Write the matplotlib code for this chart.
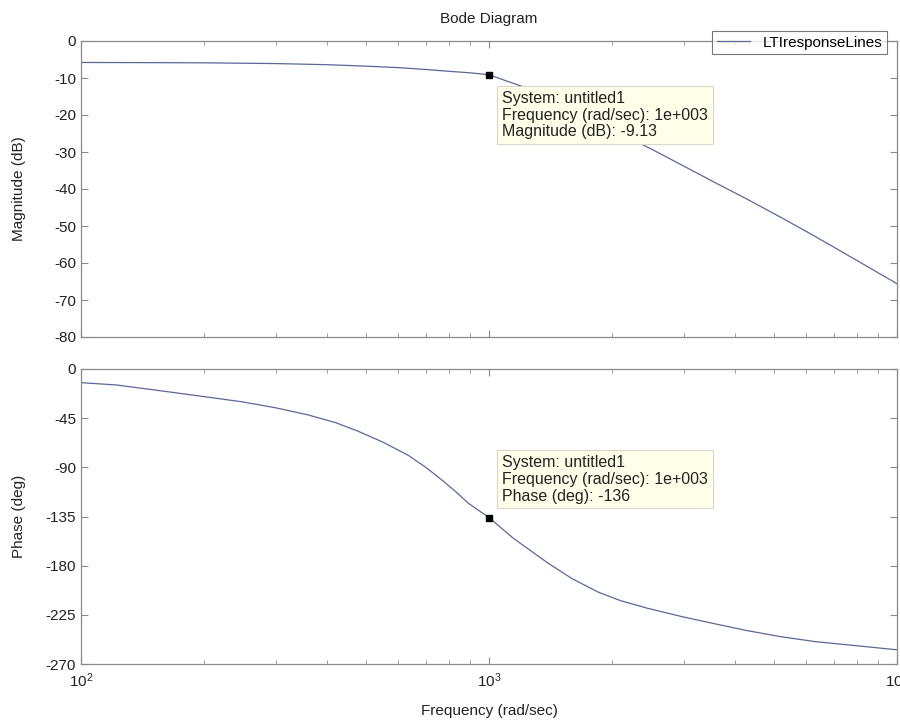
import matplotlib
matplotlib.use("Agg")
import matplotlib.pyplot as plt
from matplotlib.ticker import FixedLocator, LogLocator, NullFormatter

plt.rcParams['font.family'] = ['Liberation Sans', 'DejaVu Sans']
plt.rcParams['axes.unicode_minus'] = False
plt.rcParams['mathtext.fontset'] = 'custom'
plt.rcParams['mathtext.rm'] = 'Liberation Sans'
plt.rcParams['mathtext.it'] = 'Liberation Sans'

# Magnitude response
mag_freq = [100, 150, 200, 300, 400, 500, 600, 700, 800, 900, 1000, 1200, 1400, 1700,
            2000, 2500, 3000, 3600, 4300, 5200, 6250, 8000, 10000]
mag_db = [-5.8, -5.85, -5.9, -6.1, -6.4, -6.8, -7.2, -7.7, -8.2, -8.6, -9.13, -12.2, -15.5, -20.0,
          -24.0, -29.2, -33.8, -38.4, -42.8, -47.7, -52.6, -59.4, -65.6]

# Phase response
ph_freq = [100, 122, 167, 248, 300, 360, 420, 478, 550, 634, 700, 769, 830, 891, 1000,
           1148, 1393, 1600, 1847, 2100, 2447, 3000, 3556, 4300, 5188, 6300, 7580, 10000]
ph_deg = [-12.5, -14.6, -21.3, -30.0, -35.5, -42.0, -49.0, -57.0, -67.0, -79.0, -90.0, -102.0,
          -112.5, -123.0, -136.0, -155.0, -177.5, -192.0, -204.0, -212.0, -219.0, -227.0,
          -233.0, -239.5, -245.0, -249.5, -252.5, -257.0]

mark_freq = 1000
mark_mag = -9.13
mark_ph = -136

mag_ticks = [0, -10, -20, -30, -40, -50, -60, -70, -80]
ph_ticks = [0, -45, -90, -135, -180, -225, -270]
x_ticks = [100, 1000, 10000]
x_ticklabels = [r'$10^{2}$', r'$10^{3}$', r'$10^{4}$']

line_color = '#5b6896'
spine_color = '#8a8a8a'
text_color = '#222222'
fs = 11

fig = plt.figure(figsize=(9, 7.22), dpi=100)
W, H = 900, 722
left, right = 81 / W, 897 / W
ax1 = fig.add_axes([left, 1 - 337 / H, right - left, (337 - 41) / H])
ax2 = fig.add_axes([left, 1 - 664 / H, right - left, (664 - 369) / H])

for ax in (ax1, ax2):
    ax.set_xscale('log')
    ax.set_xlim(100, 10000)
    ax.xaxis.set_major_locator(FixedLocator(x_ticks))
    ax.xaxis.set_minor_locator(LogLocator(base=10, subs=range(2, 10)))
    ax.xaxis.set_minor_formatter(NullFormatter())
    ax.tick_params(which='both', direction='in', top=True, right=True,
                   color=spine_color, labelsize=fs, labelcolor=text_color)
    ax.tick_params(which='major', length=5)
    ax.tick_params(which='minor', length=3)
    for s in ax.spines.values():
        s.set_color(spine_color)
        s.set_linewidth(0.9)

ln, = ax1.plot(mag_freq, mag_db, color=line_color, lw=0.9, label='LTIresponseLines')
ax1.set_ylim(-80, 0)
ax1.set_yticks(mag_ticks)
ax1.set_xticklabels([])
ax1.set_ylabel('Magnitude (dB)', fontsize=fs, color=text_color)
ax1.yaxis.set_label_coords(-0.068, 0.5)
ax1.set_title('Bode Diagram', fontsize=fs, color=text_color, pad=13)
ax1.plot([mark_freq], [mark_mag], 's', color='black', ms=5, zorder=5)

ax2.plot(ph_freq, ph_deg, color=line_color, lw=0.9)
ax2.set_ylim(-270, 0)
ax2.set_yticks(ph_ticks)
ax2.set_xticks(x_ticks)
ax2.set_xticklabels(x_ticklabels)
ax2.tick_params(axis='x', pad=5)
ax2.set_ylabel('Phase (deg)', fontsize=fs, color=text_color)
ax2.yaxis.set_label_coords(-0.068, 0.5)
ax2.set_xlabel('Frequency (rad/sec)', fontsize=fs, color=text_color)
ax2.xaxis.set_label_coords(0.5, -0.135)
ax2.plot([mark_freq], [mark_ph], 's', color='black', ms=5, zorder=5)

box = dict(boxstyle='square,pad=0.3', facecolor='#ffffea', edgecolor='#d8d8c8', lw=0.8)
ax1.annotate('System: untitled1\nFrequency (rad/sec): 1e+003\nMagnitude (dB): -9.13',
             xy=(mark_freq, mark_mag), xytext=(13, -16), textcoords='offset pixels',
             ha='left', va='top', fontsize=11.5, color=text_color, bbox=box,
             linespacing=1.15, zorder=4)
ax2.annotate('System: untitled1\nFrequency (rad/sec): 1e+003\nPhase (deg): -136',
             xy=(mark_freq, mark_ph), xytext=(13, 14), textcoords='offset pixels',
             ha='left', va='bottom', fontsize=11.5, color=text_color, bbox=box,
             linespacing=1.15, zorder=4)

leg = ax1.legend(handles=[ln], loc='upper right', bbox_to_anchor=(887 / W, 1 - 31 / H),
                 bbox_transform=fig.transFigure, fontsize=fs, frameon=True, fancybox=False,
                 handlelength=2.2, borderpad=0.3, handletextpad=0.8, borderaxespad=0)
leg.get_frame().set_edgecolor('#555555')
leg.get_frame().set_linewidth(0.8)
leg.set_zorder(10)

fig.savefig('out.png', dpi=100)
